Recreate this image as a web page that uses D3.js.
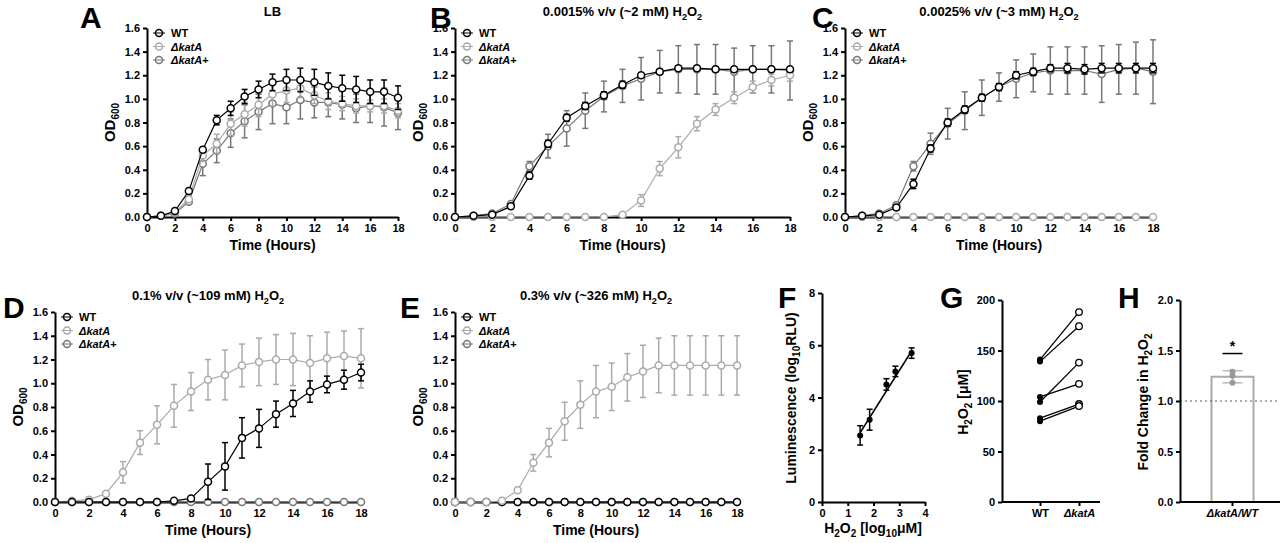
<!DOCTYPE html><html><head><meta charset="utf-8">
<script src="https://cdn.jsdelivr.net/npm/d3@7"></script>
<style>body{margin:0;background:#fff}text{font-family:"Liberation Sans",Arial,sans-serif;font-weight:bold}</style>
</head><body><svg id="c" width="1280" height="543"></svg><script>
const hours=d3.range(0,19);
const zeros=hours.map(()=>0);
const strains=["WT","ΔkatA","ΔkatA+"];
const colors=["#000","#aaa","#777"];
// Panel A (LB)
const A_WT=[0,0.01,0.05,0.22,0.57,0.82,0.92,1.02,1.08,1.14,1.16,1.16,1.14,1.11,1.09,1.08,1.06,1.06,1.01];
const A_WTe=[0.01,0.01,0.01,0.02,0.02,0.04,0.06,0.06,0.07,0.07,0.09,0.1,0.11,0.11,0.11,0.11,0.1,0.1,0.1];
const A_K=[0,0.01,0.04,0.15,0.52,0.62,0.79,0.87,0.95,1.04,1.07,1.09,1.03,0.98,0.96,0.94,0.94,0.94,0.9];
const A_Ke=[0.01,0.01,0.01,0.02,0.05,0.08,0.1,0.1,0.1,0.1,0.1,0.08,0.07,0.07,0.06,0.06,0.05,0.06,0.06];
const A_C=[0,0.01,0.03,0.13,0.45,0.56,0.71,0.81,0.89,0.96,0.93,0.99,0.97,0.97,0.95,0.92,0.94,0.93,0.88];
const A_Ce=[0.01,0.01,0.01,0.02,0.1,0.1,0.12,0.14,0.15,0.17,0.14,0.16,0.13,0.12,0.12,0.12,0.14,0.16,0.14];
// Panel B
const B_WT=[0,0.01,0.02,0.09,0.35,0.62,0.84,0.94,1.03,1.12,1.2,1.23,1.26,1.26,1.25,1.25,1.25,1.25,1.25];
const B_WTe=[0.01,0.01,0.01,0.02,0.03,0.03,0.03,0.03,0.03,0.03,0.02,0.02,0.02,0.02,0.02,0.02,0.02,0.02,0.02];
const B_K=[0,0,0,0,0,0,0,0,0,0.02,0.14,0.41,0.59,0.79,0.91,1.01,1.1,1.16,1.2];
const B_Ke=[0,0,0,0,0,0,0,0,0,0.01,0.05,0.06,0.09,0.06,0.05,0.05,0.05,0.05,0.05];
const B_C=[0,0.01,0.03,0.11,0.43,0.6,0.75,0.9,1.02,1.11,1.17,1.23,1.25,1.25,1.25,1.23,1.25,1.25,1.24];
const B_Ce=[0.01,0.01,0.01,0.02,0.04,0.1,0.15,0.15,0.13,0.14,0.18,0.18,0.2,0.21,0.21,0.2,0.2,0.2,0.25];
// Panel C
const C_WT=[0,0.01,0.02,0.08,0.28,0.58,0.8,0.91,1.01,1.1,1.2,1.23,1.26,1.26,1.25,1.26,1.26,1.26,1.26];
const C_WTe=[0.01,0.01,0.01,0.02,0.04,0.03,0.03,0.03,0.03,0.03,0.03,0.03,0.03,0.04,0.04,0.04,0.04,0.04,0.04];
const C_K=zeros;
const C_C=[0,0.01,0.03,0.1,0.43,0.62,0.79,0.9,1.01,1.1,1.17,1.22,1.24,1.24,1.24,1.21,1.25,1.26,1.23];
const C_Ce=[0.01,0.01,0.01,0.02,0.04,0.09,0.13,0.16,0.15,0.12,0.16,0.16,0.2,0.2,0.2,0.24,0.21,0.22,0.27];
// Panel D
const D_WT=[0,0,0,0,0,0,0,0.01,0.03,0.17,0.3,0.54,0.62,0.74,0.83,0.93,0.99,1.03,1.09];
const D_WTe=[0,0,0,0,0,0,0,0.01,0.01,0.15,0.2,0.17,0.16,0.11,0.11,0.09,0.07,0.08,0.07];
const D_K=[0,0.01,0.02,0.07,0.25,0.5,0.65,0.81,0.93,1.03,1.07,1.15,1.18,1.2,1.2,1.17,1.21,1.23,1.21];
const D_Ke=[0,0,0,0.01,0.09,0.1,0.16,0.18,0.16,0.17,0.21,0.18,0.2,0.21,0.22,0.23,0.22,0.21,0.25];
const D_C=zeros;
// Panel E
const E_WT=zeros, E_C=zeros;
const E_K=[0,0,0,0.01,0.1,0.33,0.5,0.68,0.82,0.93,0.97,1.05,1.1,1.15,1.15,1.15,1.15,1.15,1.15];
const E_Ke=[0,0,0,0.01,0.02,0.07,0.12,0.16,0.2,0.22,0.2,0.2,0.22,0.23,0.25,0.25,0.25,0.25,0.25];
// Panel F
const F_x=[1.48,1.85,2.5,2.85,3.48], F_y=[2.55,3.15,4.5,5.0,5.7], F_e=[0.37,0.4,0.22,0.2,0.2];
const F_fit=[[1.48,2.65],[3.48,5.78]];
// Panel G
const G_groups=["WT","ΔkatA"];
const G_WT=[141,139,104,99,83,80], G_K=[188,174,117,138,97,95];
// Panel H
const H_cat=["ΔkatA/WT"], H_mean=[1.24], H_err=[0.06], H_pts=[1.29,1.25,1.18];

const svg=d3.select("#c");
function italicK(t,s){
  if(s.startsWith("Δ")){t.append("tspan").attr("font-style","italic").text(s.replace("+",""));
    if(s.endsWith("+"))t.append("tspan").text("+");}else t.text(s);}
function h2o2(t,pre,post){t.append("tspan").text(pre+"H");t.append("tspan").attr("font-size","70%").attr("dy",4).text("2");
  t.append("tspan").attr("dy",-4).text("O");t.append("tspan").attr("font-size","70%").attr("dy",4).text("2");if(post)t.append("tspan").attr("dy",-4).text(post);}
function axisStyle(g){g.selectAll("path,line").attr("stroke","#000").attr("stroke-width",2);g.selectAll("text").attr("font-size",11).attr("font-weight","bold").attr("font-family","Liberation Sans, Arial");}

function growth(x0,x1,y0,y1,series,title,letter,lx,ly){
  const x=d3.scaleLinear([0,18],[x0,x1]), y=d3.scaleLinear([0,1.6],[y0,y1]);
  const g=svg.append("g");
  g.append("g").attr("transform",`translate(0,${y0})`).call(d3.axisBottom(x).tickValues(d3.range(0,19,2)).tickSize(4).tickSizeOuter(0)).call(axisStyle);
  g.append("g").attr("transform",`translate(${x0},0)`).call(d3.axisLeft(y).tickValues(d3.range(0,1.61,0.2)).tickFormat(d3.format(".1f")).tickSize(4).tickSizeOuter(0)).call(axisStyle);
  g.append("text").attr("x",(x0+x1)/2).attr("y",y0+33).attr("text-anchor","middle").attr("font-size",14).text("Time (Hours)");
  const yl=g.append("text").attr("transform",`translate(${x0-32},${(y0+y1)/2}) rotate(-90)`).attr("text-anchor","middle").attr("font-size",15);
  yl.append("tspan").text("OD");yl.append("tspan").attr("font-size",10).attr("dy",4).text("600");
  const tt=g.append("text").attr("x",(x0+x1)/2).attr("y",y1-12).attr("text-anchor","middle").attr("font-size",13);
  if(title==="LB")tt.text("LB");else h2o2(tt,title+" ","");
  g.append("text").attr("x",lx).attr("y",ly).attr("font-size",30).attr("font-family","Liberation Sans").text(letter);
  series.forEach(s=>{
    const c=s.color;
    if(s.err) s.v.forEach((v,i)=>{const e=s.err[i];if(e<=0.005)return;
      g.append("line").attr("x1",x(i)).attr("x2",x(i)).attr("y1",y(v-e)).attr("y2",y(v+e)).attr("stroke",c).attr("stroke-width",1.5);
      [v-e,v+e].forEach(w=>g.append("line").attr("x1",x(i)-3).attr("x2",x(i)+3).attr("y1",y(w)).attr("y2",y(w)).attr("stroke",c).attr("stroke-width",1.5));});
    g.append("path").attr("d",d3.line().x((d,i)=>x(i)).y(d=>y(d))(s.v)).attr("fill","none").attr("stroke",c).attr("stroke-width",1.2);
    g.selectAll(null).data(s.v).join("circle").attr("cx",(d,i)=>x(i)).attr("cy",d=>y(d)).attr("r",3.5).attr("fill","#fff").attr("stroke",c).attr("stroke-width",1.5);
  });
  strains.forEach((s,i)=>{const yy=y1+5+i*13.5;
    g.append("circle").attr("cx",x0+12).attr("cy",yy).attr("r",3.5).attr("fill","#fff").attr("stroke",colors[i]).attr("stroke-width",1.5);
    g.append("line").attr("x1",x0+6).attr("x2",x0+18).attr("y1",yy).attr("y2",yy).attr("stroke",colors[i]);
    const t=g.append("text").attr("x",x0+24).attr("y",yy+4).attr("font-size",11);italicK(t,s);});
}
const mk=(a,b,c)=>[{v:c[0],err:c[1],color:colors[2]},{v:b[0],err:b[1],color:colors[1]},{v:a[0],err:a[1],color:colors[0]}];
growth(147,398,217,28,mk([A_WT,A_WTe],[A_K,A_Ke],[A_C,A_Ce]),"LB","A",80,28);
growth(455,790,217,28,mk([B_WT,B_WTe],[B_K,B_Ke],[B_C,B_Ce]),"0.0015% v/v (~2 mM)","B",430,28);
growth(845,1153,217,28,mk([C_WT,C_WTe],[C_K,null],[C_C,C_Ce]),"0.0025% v/v (~3 mM)","C",812,28);
growth(55,361,502,312,[{v:D_C,err:null,color:colors[2]},{v:D_K,err:D_Ke,color:colors[1]},{v:D_WT,err:D_WTe,color:colors[0]}],"0.1% v/v (~109 mM)","D",3,318);
growth(455,737,502,312,[{v:E_C,err:null,color:colors[2]},{v:E_WT,err:null,color:colors[0]},{v:E_K,err:E_Ke,color:colors[1]}],"0.3% v/v (~326 mM)","E",400,318);

// Panel F
(function(){const x=d3.scaleLinear([0,4],[822,925]),y=d3.scaleLinear([0,8],[502,293]);const g=svg.append("g");
  g.append("g").attr("transform","translate(0,502)").call(d3.axisBottom(x).ticks(4).tickSize(4).tickSizeOuter(0)).call(axisStyle);
  g.append("g").attr("transform","translate(822,0)").call(d3.axisLeft(y).tickValues([0,2,4,6,8]).tickSize(4).tickSizeOuter(0)).call(axisStyle);
  g.append("line").attr("x1",x(F_fit[0][0])).attr("y1",y(F_fit[0][1])).attr("x2",x(F_fit[1][0])).attr("y2",y(F_fit[1][1])).attr("stroke","#000").attr("stroke-width",1.5);
  F_x.forEach((v,i)=>{const e=F_e[i];g.append("line").attr("x1",x(v)).attr("x2",x(v)).attr("y1",y(F_y[i]-e)).attr("y2",y(F_y[i]+e)).attr("stroke","#000").attr("stroke-width",1.5);
    [F_y[i]-e,F_y[i]+e].forEach(w=>g.append("line").attr("x1",x(v)-3).attr("x2",x(v)+3).attr("y1",y(w)).attr("y2",y(w)).attr("stroke","#000").attr("stroke-width",1.5));
    g.append("circle").attr("cx",x(v)).attr("cy",y(F_y[i])).attr("r",3).attr("fill","#000");});
  const xl=g.append("text").attr("x",873).attr("y",533).attr("text-anchor","middle").attr("font-size",14);
  xl.append("tspan").text("H");xl.append("tspan").attr("font-size",10).attr("dy",4).text("2");xl.append("tspan").attr("dy",-4).text("O");xl.append("tspan").attr("font-size",10).attr("dy",4).text("2");
  xl.append("tspan").attr("dy",-4).text(" [log");xl.append("tspan").attr("font-size",10).attr("dy",4).text("10");xl.append("tspan").attr("dy",-4).text("μM]");
  const yl=g.append("text").attr("transform","translate(796,398) rotate(-90)").attr("text-anchor","middle").attr("font-size",14);
  yl.append("tspan").text("Luminescence (log");yl.append("tspan").attr("font-size",10).attr("dy",4).text("10");yl.append("tspan").attr("dy",-4).text("RLU)");
  g.append("text").attr("x",778).attr("y",308).attr("font-size",30).text("F");
})();
// Panel G
(function(){const x=d3.scalePoint(G_groups,[1040,1079]),y=d3.scaleLinear([0,200],[502,300]);const g=svg.append("g");
  g.append("g").attr("transform","translate(1002,0)").call(d3.axisLeft(y).tickValues([0,50,100,150,200]).tickSize(4).tickSizeOuter(0)).call(axisStyle);
  g.append("g").attr("transform","translate(0,502)").call(d3.axisBottom(x).tickSize(4).tickSizeOuter(0)).call(axisStyle)
   .call(a=>{a.select(".domain").attr("d","M1002,0H1100");a.selectAll(".tick text").each(function(d){if(d!=="WT")d3.select(this).attr("font-style","italic");});});
  G_WT.forEach((w,i)=>{g.append("line").attr("x1",x("WT")).attr("x2",x("ΔkatA")).attr("y1",y(w)).attr("y2",y(G_K[i])).attr("stroke","#000").attr("stroke-width",1.3);
    g.append("circle").attr("cx",x("WT")).attr("cy",y(w)).attr("r",3).attr("fill","#000");
    g.append("circle").attr("cx",x("ΔkatA")).attr("cy",y(G_K[i])).attr("r",3.3).attr("fill","#fff").attr("stroke","#000").attr("stroke-width",1.3);});
  const yl=g.append("text").attr("transform","translate(968,402) rotate(-90)").attr("text-anchor","middle").attr("font-size",14);
  yl.append("tspan").text("H");yl.append("tspan").attr("font-size",10).attr("dy",4).text("2");yl.append("tspan").attr("dy",-4).text("O");yl.append("tspan").attr("font-size",10).attr("dy",4).text("2");yl.append("tspan").attr("dy",-4).text(" [μM]");
  g.append("text").attr("x",940).attr("y",308).attr("font-size",30).text("G");
})();
// Panel H
(function(){const x=d3.scaleBand(H_cat,[1195,1270]).padding(0.25),y=d3.scaleLinear([0,2],[502,300]);const g=svg.append("g");
  const xc=x(H_cat[0])+x.bandwidth()/2;
  g.append("rect").attr("x",xc-21).attr("y",y(H_mean[0])).attr("width",42).attr("height",y(0)-y(H_mean[0])).attr("fill","#fff").attr("stroke","#aaa").attr("stroke-width",2);
  g.append("line").attr("x1",1180).attr("x2",1280).attr("y1",y(1)).attr("y2",y(1)).attr("stroke","#555").attr("stroke-dasharray","2,3");
  g.append("g").attr("transform","translate(1180,0)").call(d3.axisLeft(y).tickValues([0,0.5,1,1.5,2]).tickFormat(d3.format(".1f")).tickSize(4).tickSizeOuter(0)).call(axisStyle);
  g.append("g").attr("transform","translate(0,502)").call(d3.axisBottom(x).tickSize(4).tickSizeOuter(0)).call(axisStyle).call(a=>{a.select(".domain").attr("d","M1180,0H1280");a.selectAll(".tick text").attr("font-style","italic");});
  [H_mean[0]-H_err[0],H_mean[0]+H_err[0]].forEach(w=>g.append("line").attr("x1",xc-10).attr("x2",xc+10).attr("y1",y(w)).attr("y2",y(w)).attr("stroke","#bbb").attr("stroke-width",1.5));
  g.append("line").attr("x1",xc).attr("x2",xc).attr("y1",y(H_mean[0]-H_err[0])).attr("y2",y(H_mean[0]+H_err[0])).attr("stroke","#bbb").attr("stroke-width",1.5);
  H_pts.forEach(p=>g.append("circle").attr("cx",xc).attr("cy",y(p)).attr("r",3).attr("fill","#999"));
  g.append("line").attr("x1",xc-10).attr("x2",xc+10).attr("y1",y(1.47)).attr("y2",y(1.47)).attr("stroke","#000").attr("stroke-width",1.5);
  g.append("text").attr("x",xc).attr("y",y(1.5)).attr("text-anchor","middle").attr("font-size",14).text("*");
  const yl=g.append("text").attr("transform","translate(1148,402) rotate(-90)").attr("text-anchor","middle").attr("font-size",14);
  yl.append("tspan").text("Fold Change in H");yl.append("tspan").attr("font-size",10).attr("dy",4).text("2");yl.append("tspan").attr("dy",-4).text("O");yl.append("tspan").attr("font-size",10).attr("dy",4).text("2");
  g.append("text").attr("x",1118).attr("y",308).attr("font-size",30).text("H");
})();
</script></body></html>
